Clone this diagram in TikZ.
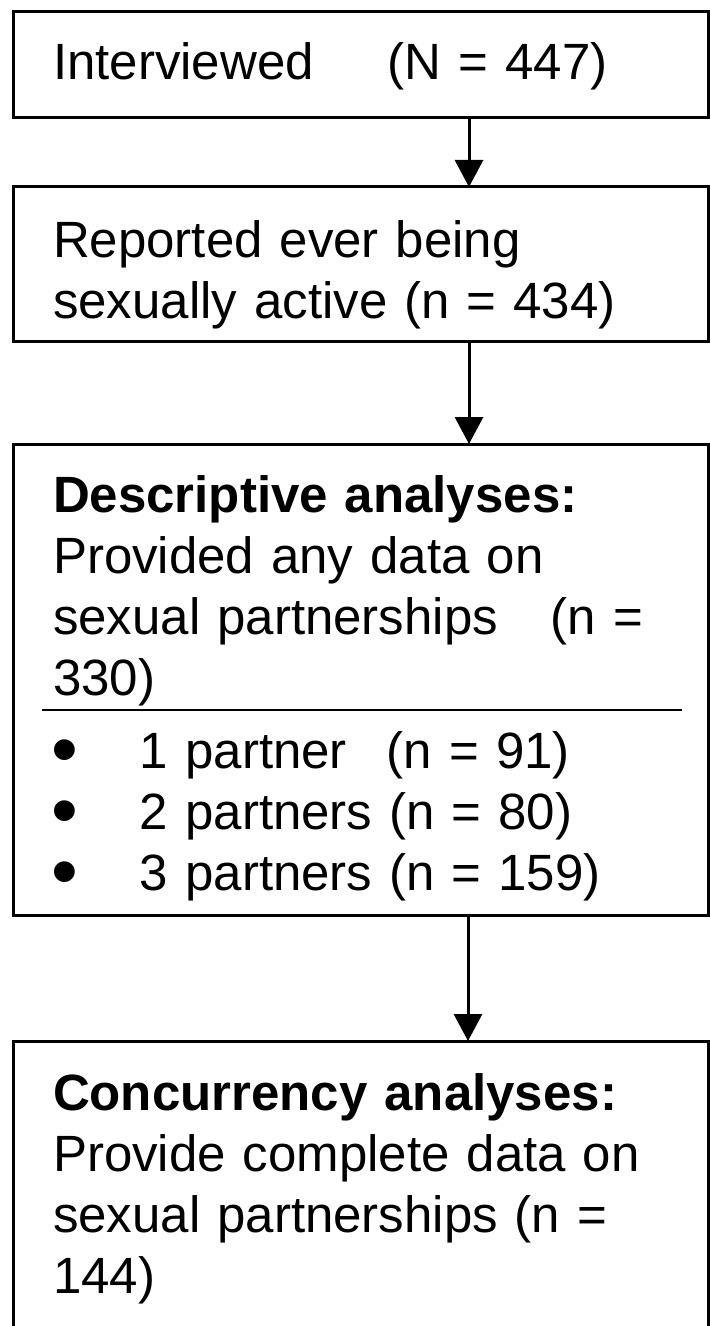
\documentclass[tikz,border=0pt]{standalone}
\usepackage{fontspec}
\setmainfont{Liberation Sans}
\usepackage{tikz}
\usetikzlibrary{positioning,arrows.meta}
\newcommand\partbullet{\makebox[43.5pt][l]{\hspace*{-1pt}\raisebox{-3.8pt}[0pt][0pt]{\scalebox{1.5}{\textbullet}}}}

\begin{document}
\begin{tikzpicture}[x=1pt,y=1pt,->,>={Triangle[width=14pt,length=13.5pt]},line width=1.5pt,
  box/.style={draw,rectangle,anchor=north west,align=left,text width=307.5pt,inner xsep=20pt,inner ysep=0pt,outer sep=0pt,font=\fontsize{25.5pt}{30.5pt}\selectfont}]
	\useasboundingbox (0,0) rectangle (355,-663);
	\coordinate (col) at (234.5,0);
	\node[box,text height=34pt,text depth=19pt] (inter) at (6.5,-6) {Interviewed\hspace{37pt}(N = 447)};
	\node[box,text height=35.5pt,text depth=42pt,below=34.5pt of inter] (active) {Reported ever being\\sexually active (n = 434)};
	\node[box,text height=34pt,text depth=201.5pt,below=51pt of active] (desc) {\textbf{Descriptive analyses:}\\Provided any data on\\sexual partnerships\hspace{26.5pt}(n =\\330)\\[6pt]
		\partbullet 1 partner\hspace{20pt}(n = 91)\\\partbullet 2 partners (n = 80)\\\partbullet 3 partners (n = 159)};
	\node[box,text height=34.5pt,text depth=150pt,below=63pt of desc] (conc) {\textbf{Concurrency analyses:}\\Provide complete data on\\sexual partnerships (n =\\144)};

	\coordinate (divL) at ([xshift=14.5pt,yshift=-133pt]desc.north west);
	\coordinate (divR) at ([xshift=-13pt,yshift=-133pt]desc.north east);
	\draw[-,line width=1pt] (divL) -- (divR);

	\draw (inter.south -| col) -- (active.north -| col);
	\draw (active.south -| col) -- (desc.north -| col);
	\draw ([xshift=-0.5pt]desc.south -| col) -- ([xshift=-0.5pt]conc.north -| col);
\end{tikzpicture}
\end{document}
